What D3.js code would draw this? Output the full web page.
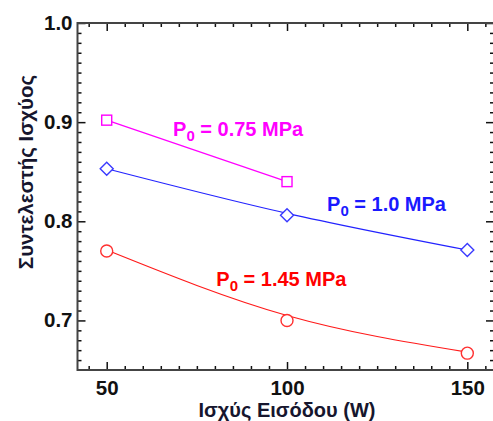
<!DOCTYPE html>
<html>
<head>
<meta charset="utf-8">
<script src="https://cdn.jsdelivr.net/npm/d3@7"></script>
<style>
  html, body { margin: 0; padding: 0; background: #fff; }
  svg { display: block; }
  text { font-family: "Liberation Sans", Arial, sans-serif; font-weight: bold; }
</style>
</head>
<body>
<svg id="chart" width="493" height="421"></svg>
<script>
// Input power (W)
const powerIn = [50, 100, 150];

// Measured power factor for each initial pressure
const pf075 = [0.902, 0.840];
const pf100 = [0.853, 0.806, 0.771];
const pf145 = [0.770, 0.700, 0.667];

// Trend curves through the measurements
const fit075 = [0.902, 0.840];
const fit100 = [0.853, 0.808, 0.771];
const fit145 = [0.771, 0.705, 0.668];

// Axis ticks
const xMajor = [50, 100, 150];
const yMajor = [0.7, 0.8, 0.9, 1.0];
const yTickLabels = ["0.7", "0.8", "0.9", "1.0"];

const xTitle = "Ισχύς Εισόδου (W)";
const yTitle = "Συντελεστής Ισχύος";

const svg = d3.select("#chart");
const plotL = 77.5, plotR = 494, plotT = 23, plotB = 370;

const x = d3.scaleLinear().domain([41.9, 157.4]).range([plotL, plotR]);
const y = d3.scaleLinear().domain([0.65, 1.0]).range([plotB, plotT]);

const xMinor = d3.range(45, 157, 5).filter(v => !xMajor.includes(v));
const yMinor = d3.range(66, 100, 1).map(v => v / 100).filter(v => !yMajor.some(m => Math.abs(m - v) < 1e-6));

const tickColor = "#111";

function styleAxis(g) {
  g.select(".domain").remove();
  g.selectAll(".tick line").attr("stroke", tickColor).attr("stroke-width", 1.5);
  g.selectAll(".tick text")
    .attr("fill", "#111")
    .style("font-size", "20.5px")
    .style("font-weight", "bold");
}

// Bottom axis (labels + inward ticks)
svg.append("g").attr("transform", `translate(0,${plotB})`)
  .call(d3.axisBottom(x).tickValues(xMajor).tickSizeInner(-8).tickSizeOuter(0).tickPadding(10).tickFormat(d3.format("d")))
  .call(styleAxis);
svg.append("g").attr("transform", `translate(0,${plotB})`)
  .call(d3.axisBottom(x).tickValues(xMinor).tickSizeInner(-4).tickSizeOuter(0).tickFormat(""))
  .call(styleAxis);

// Top axis (ticks only)
svg.append("g").attr("transform", `translate(0,${plotT})`)
  .call(d3.axisTop(x).tickValues(xMajor).tickSizeInner(-8).tickSizeOuter(0).tickFormat(""))
  .call(styleAxis);
svg.append("g").attr("transform", `translate(0,${plotT})`)
  .call(d3.axisTop(x).tickValues(xMinor).tickSizeInner(-4).tickSizeOuter(0).tickFormat(""))
  .call(styleAxis);

// Left axis
svg.append("g").attr("transform", `translate(${plotL},0)`)
  .call(d3.axisLeft(y).tickValues(yMajor).tickSizeInner(-8).tickSizeOuter(0).tickPadding(5)
    .tickFormat((d, i) => yTickLabels[i]))
  .call(styleAxis);
svg.append("g").attr("transform", `translate(${plotL},0)`)
  .call(d3.axisLeft(y).tickValues(yMinor).tickSizeInner(-4).tickSizeOuter(0).tickFormat(""))
  .call(styleAxis);

// Right axis (ticks only)
svg.append("g").attr("transform", `translate(${plotR},0)`)
  .call(d3.axisRight(y).tickValues(yMajor).tickSizeInner(-8).tickSizeOuter(0).tickFormat(""))
  .call(styleAxis);
svg.append("g").attr("transform", `translate(${plotR},0)`)
  .call(d3.axisRight(y).tickValues(yMinor).tickSizeInner(-4).tickSizeOuter(0).tickFormat(""))
  .call(styleAxis);

// Frame
svg.append("rect")
  .attr("x", plotL).attr("y", plotT)
  .attr("width", plotR - plotL).attr("height", plotB - plotT)
  .attr("fill", "none").attr("stroke", "#444").attr("stroke-width", 2);

// Trend curves
const line = d3.line().x(d => x(d[0])).y(d => y(d[1])).curve(d3.curveNatural);
const curves = [
  { vals: fit075, color: "#ff00ff" },
  { vals: fit100, color: "#2323ff" },
  { vals: fit145, color: "#ff1a1a" }
];
curves.forEach(c => {
  svg.append("path")
    .datum(c.vals.map((v, i) => [powerIn[i], v]))
    .attr("d", line)
    .attr("fill", "none")
    .attr("stroke", c.color)
    .attr("stroke-width", 1.2);
});

// Markers
const sq = 10;
svg.append("g").selectAll("rect").data(pf075).join("rect")
  .attr("x", (d, i) => x(powerIn[i]) - sq / 2)
  .attr("y", d => y(d) - sq / 2)
  .attr("width", sq).attr("height", sq)
  .attr("fill", "#fff").attr("stroke", "#ff00ff").attr("stroke-width", 1.4);

const dm = 6.5;
svg.append("g").selectAll("path").data(pf100).join("path")
  .attr("d", (d, i) => {
    const cx = x(powerIn[i]), cy = y(d);
    return `M${cx},${cy - dm}L${cx + dm},${cy}L${cx},${cy + dm}L${cx - dm},${cy}Z`;
  })
  .attr("fill", "#fff").attr("stroke", "#3a3aff").attr("stroke-width", 1.4);

svg.append("g").selectAll("circle").data(pf145).join("circle")
  .attr("cx", (d, i) => x(powerIn[i]))
  .attr("cy", d => y(d))
  .attr("r", 6)
  .attr("fill", "#fff").attr("stroke", "#ff3030").attr("stroke-width", 1.4);

// Series annotations
const notes = [
  { px: 68.4, py: 0.886, val: "0.75", color: "#ff00ff" },
  { px: 111.1, py: 0.810, val: "1.0", color: "#1a1aff" },
  { px: 80.4, py: 0.735, val: "1.45", color: "#ff0000" }
];
notes.forEach(n => {
  const t = svg.append("text")
    .attr("x", x(n.px)).attr("y", y(n.py))
    .attr("fill", n.color)
    .style("font-size", "20px");
  t.append("tspan").text("P");
  t.append("tspan").attr("dy", 5).style("font-size", "15px").text("0");
  t.append("tspan").attr("dy", -5).text(" = " + n.val + " MPa");
});

// Axis titles
svg.append("text")
  .attr("x", x(100)).attr("y", 417)
  .attr("text-anchor", "middle")
  .attr("fill", "#16162e")
  .style("font-size", "20px")
  .text(xTitle);

svg.append("text")
  .attr("transform", "translate(33,172) rotate(-90)")
  .attr("text-anchor", "middle")
  .attr("fill", "#16162e")
  .style("font-size", "20.5px")
  .text(yTitle);
</script>
</body>
</html>
